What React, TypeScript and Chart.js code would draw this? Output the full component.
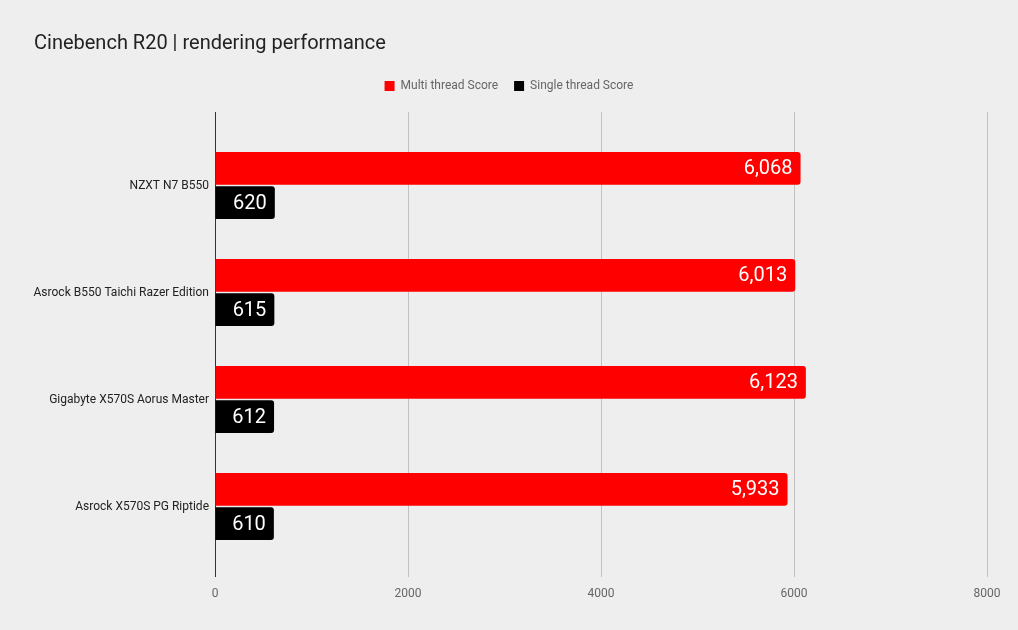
import React, { useEffect, useRef } from 'react';
import { Chart, registerables } from 'chart.js';

Chart.register(...registerables);

const chartTitle = 'Cinebench R20 | rendering performance';
const boards = [
  'NZXT N7 B550',
  'Asrock B550 Taichi Razer Edition',
  'Gigabyte X570S Aorus Master',
  'Asrock X570S PG Riptide',
];
const multiThread = [6068, 6013, 6123, 5933];
const singleThread = [620, 615, 612, 610];
const xTicks = [0, 2000, 4000, 6000, 8000];

const FONT = 'Roboto, "Noto Sans", sans-serif';

// title drawn at a fixed left offset, independent of the y-axis box
const titlePlugin = {
  id: 'leftTitle',
  afterDraw(chart: any) {
    const { ctx } = chart;
    ctx.save();
    ctx.font = `20px ${FONT}`;
    ctx.fillStyle = '#222222';
    ctx.textAlign = 'left';
    ctx.textBaseline = 'middle';
    ctx.fillText(chartTitle, 34, 44);
    ctx.restore();
  },
};

// white value text sitting inside the end of each bar
const valueLabels = {
  id: 'valueLabels',
  afterDatasetsDraw(chart: any) {
    const { ctx } = chart;
    ctx.save();
    ctx.font = `20px ${FONT}`;
    ctx.fillStyle = '#ffffff';
    ctx.textAlign = 'right';
    ctx.textBaseline = 'middle';
    chart.data.datasets.forEach((ds: any, i: number) => {
      chart.getDatasetMeta(i).data.forEach((bar: any, j: number) => {
        ctx.fillText(Number(ds.data[j]).toLocaleString('en-US'), bar.x - 8, bar.y + 1);
      });
    });
    ctx.restore();
  },
};

const gridColor = (c: any) => (c.tick && c.tick.value === 0 ? '#333333' : '#c2c2c2');

const App: React.FC = () => {
  const canvasRef = useRef<HTMLCanvasElement>(null);

  useEffect(() => {
    if (!canvasRef.current) return;
    const chart = new Chart(canvasRef.current, {
      type: 'bar',
      data: {
        labels: boards,
        datasets: [
          {
            label: 'Multi thread Score',
            data: multiThread,
            backgroundColor: '#ff0000',
            borderRadius: 3,
            categoryPercentage: 0.64,
            barPercentage: 0.95,
          },
          {
            label: 'Single thread Score',
            data: singleThread,
            backgroundColor: '#000000',
            borderRadius: 3,
            categoryPercentage: 0.64,
            barPercentage: 0.95,
          },
        ],
      },
      options: {
        indexAxis: 'y',
        animation: false,
        responsive: true,
        maintainAspectRatio: false,
        layout: { padding: { left: 31, right: 31, top: 64, bottom: 0 } },
        plugins: {
          title: { display: false },
          legend: {
            position: 'top',
            labels: {
              boxWidth: 10,
              boxHeight: 10,
              padding: 16,
              color: '#666666',
              font: { family: FONT, size: 12 },
            },
          },
          tooltip: { enabled: false },
        },
        scales: {
          x: {
            type: 'linear',
            position: 'bottom',
            min: 0,
            max: 8000,
            afterBuildTicks: (s: any) => {
              s.ticks = xTicks.map((v) => ({ value: v }));
            },
            afterFit: (s: any) => {
              s.height = 70;
            },
            grid: { color: gridColor, tickLength: 17, lineWidth: 1 },
            border: { display: false },
            ticks: {
              padding: 10,
              color: '#666666',
              font: { family: FONT, size: 12 },
              callback: (v: any) => String(v),
            },
          },
          x2: {
            type: 'linear',
            axis: 'x',
            position: 'top',
            min: 0,
            max: 8000,
            afterBuildTicks: (s: any) => {
              s.ticks = xTicks.map((v) => ({ value: v }));
            },
            afterFit: (s: any) => {
              s.height = 30;
            },
            grid: { color: gridColor, tickLength: 20, lineWidth: 1 },
            border: { display: false },
            ticks: { display: false },
          },
          y: {
            afterFit: (s: any) => {
              s.width = 184;
            },
            grid: { display: false, drawTicks: false },
            border: { display: false },
            ticks: {
              padding: 6,
              color: '#222222',
              font: { family: FONT, size: 12 },
            },
          },
        },
      },
      plugins: [valueLabels, titlePlugin],
    } as any);
    return () => chart.destroy();
  }, []);

  return (
    <div
      style={{
        position: 'fixed',
        left: 0,
        top: 0,
        width: 1018,
        height: 630,
        background: '#eeeeee',
      }}
    >
      <canvas ref={canvasRef} />
    </div>
  );
};

export default App;
